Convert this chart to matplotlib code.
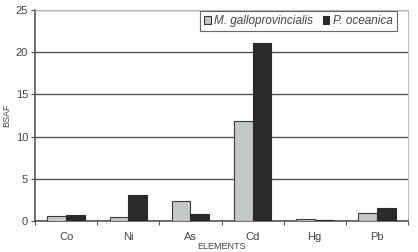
import numpy as np
import matplotlib
matplotlib.use("Agg")
import matplotlib.pyplot as plt

plt.rcParams['font.family'] = ['Liberation Sans', 'DejaVu Sans']

elements = ['Co', 'Ni', 'As', 'Cd', 'Hg', 'Pb']
mussel = [0.6, 0.5, 2.4, 11.8, 0.2, 1.0]
posidonia = [0.7, 3.1, 0.8, 21.1, 0.1, 1.5]
series_names = ['M. galloprovincialis', 'P. oceanica']

fig = plt.figure(figsize=(4.18, 2.52), dpi=100)
ax = fig.add_axes([35 / 418, 31 / 252, 373 / 418, 211 / 252])

x = np.arange(len(elements))
w = 0.3
ax.bar(x - w / 2, mussel, w, color='#c4c8c8', edgecolor='#3a3a3a', linewidth=0.8,
       label=series_names[0], zorder=3)
ax.bar(x + w / 2, posidonia, w, color='#2a2a2a', edgecolor='#2a2a2a', linewidth=0.8,
       label=series_names[1], zorder=3)

ax.set_xlim(-0.5, len(elements) - 0.5)
ax.set_ylim(0, 25)
ax.set_yticks([0, 5, 10, 15, 20, 25])
ax.yaxis.grid(True, color='#555555', linewidth=1.0, zorder=0)

# category boundaries as ticks, names in the middle
ax.set_xticks(np.arange(-0.5, len(elements)), minor=False)
ax.set_xticklabels([''] * (len(elements) + 1))
ax.set_xticks(x, minor=True)
ax.set_xticklabels(elements, minor=True)
ax.tick_params(axis='x', which='major', direction='out', length=3, color='#555555')
ax.tick_params(axis='x', which='minor', length=0, pad=8, labelsize=8, labelcolor='#444444')
ax.tick_params(axis='y', direction='out', length=3, color='#555555', labelsize=8,
               labelcolor='#444444', pad=2)

for side in ['left', 'bottom']:
    ax.spines[side].set_color('#555555')
    ax.spines[side].set_linewidth(1.2)
for side in ['top', 'right']:
    ax.spines[side].set_color('#bbbbbb')
    ax.spines[side].set_linewidth(0.8)

ax.set_ylabel('BSAF', fontsize=6.5, color='#444444', labelpad=3)
ax.set_xlabel('ELEMENTS', fontsize=6.5, color='#444444', labelpad=0)

leg = ax.legend(loc='upper right', bbox_to_anchor=(0.97, 0.995), ncol=2,
                fontsize=8.5, frameon=True, fancybox=False, handlelength=0.55,
                handleheight=0.55, handletextpad=0.3, columnspacing=0.8,
                borderpad=0.35, borderaxespad=0)
leg.get_frame().set_edgecolor('#444444')
leg.get_frame().set_linewidth(0.8)
for t in leg.get_texts():
    t.set_fontstyle('italic')
    t.set_color('#444444')

fig.savefig('out.png', dpi=100)
